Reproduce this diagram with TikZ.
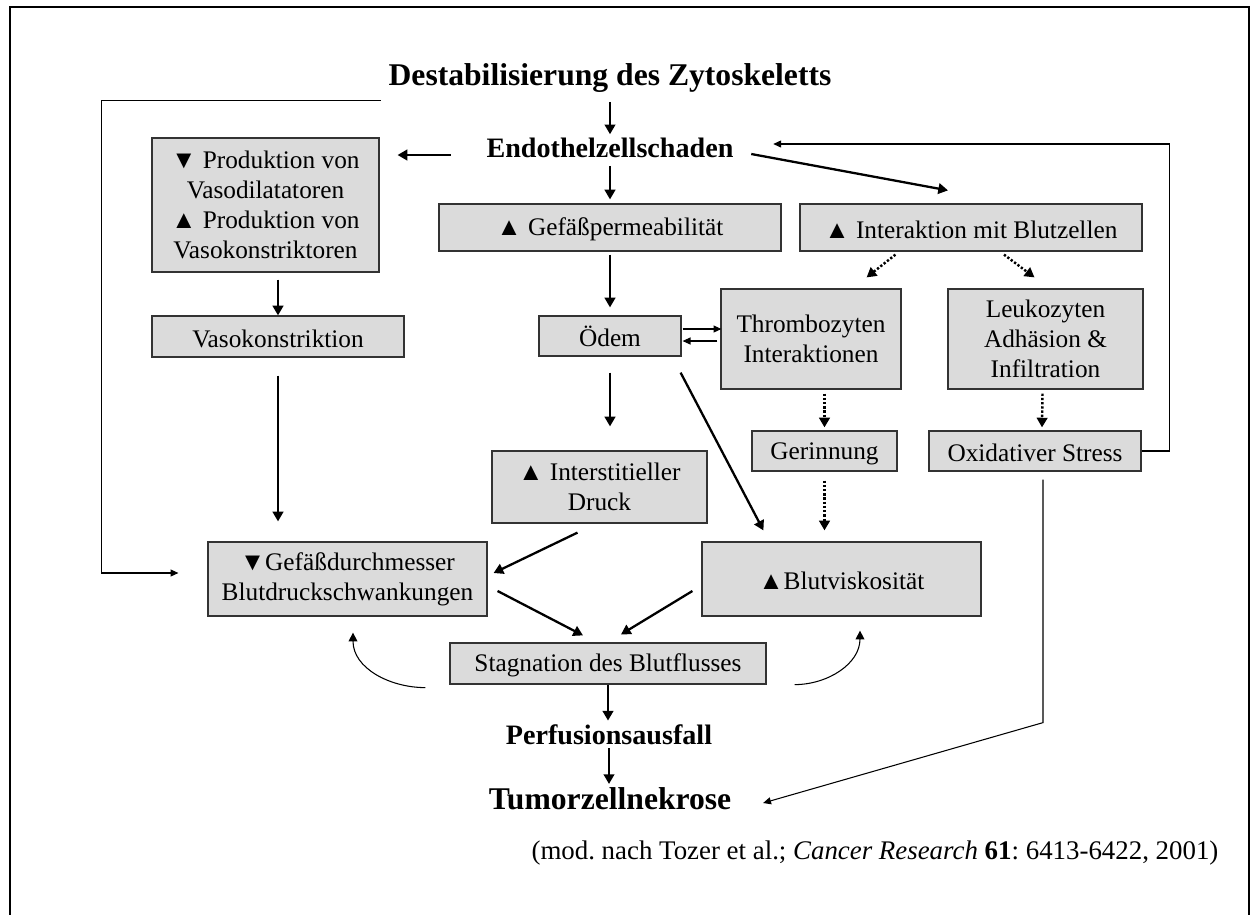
\documentclass[tikz,border=0pt]{standalone}
\usepackage{fontspec}
\setmainfont{Liberation Serif}
\usetikzlibrary{arrows.meta}

\tikzset{
  kasten/.style={draw=black!80, fill=black!14, line width=0.7pt, inner sep=0pt,
    align=center, font=\fontsize{14.4}{17.2}\selectfont,
    execute at begin node={\rule{0pt}{12.3pt}}},
  titel/.style={inner sep=2pt, font=\fontsize{18}{21}\selectfont\bfseries},
  zwischen/.style={inner sep=2pt, font=\fontsize{16}{19}\selectfont\bfseries},
  pfeil/.style={line width=1.3pt, -{Triangle[width=6pt,length=5.5pt]}},
  punkt/.style={pfeil, line width=1.4pt, dash pattern=on 1.3pt off 1.1pt},
  duenn/.style={line width=0.6pt, -{Triangle[width=4pt,length=4.5pt]}},
}

\begin{document}
\frenchspacing
\begin{tikzpicture}[x=0.02cm, y=-0.02cm]
            \useasboundingbox (0,0) rectangle (1255,914);
            % Rahmen
            \draw[line width=1.2pt] (10,930) -- (10,7) -- (1249,7) -- (1249,930);

            \node[titel] (destab) at (610,77.6) {Destabilisierung des Zytoskeletts};
            \node[zwischen] (endo) at (610,148) {Endothelzellschaden};
            \node[kasten, minimum width=4.54cm, minimum height=2.68cm] (prod) at (265.5,205)
                {▼ Produktion von\\Vasodilatatoren\\▲ Produktion von\\Vasokonstriktoren};
            \node[kasten, minimum width=5.04cm, minimum height=0.82cm] (vaso) at (278,336.5) {Vasokonstriktion};
            \node[kasten, minimum width=6.84cm, minimum height=0.94cm] (perm) at (610,227.5) {▲ Gefäßpermeabilität};
            \node[kasten, minimum width=6.84cm, minimum height=0.94cm] (blutz) at (971,227.5) {▲ Interaktion mit Blutzellen};
            \node[kasten, minimum width=2.84cm, minimum height=0.80cm] (oedem) at (610,336) {Ödem};
            \node[kasten, minimum width=3.60cm, minimum height=2.00cm] (thromb) at (811,339) {Thrombozyten\\Interaktionen};
            \node[kasten, minimum width=3.90cm, minimum height=2.00cm] (leuko) at (1045.5,339) {Leukozyten\\Adhäsion \&\\Infiltration};
            \node[kasten, minimum width=2.90cm, minimum height=0.80cm] (gerinn) at (824.5,451) {Gerinnung};
            \node[kasten, minimum width=4.24cm, minimum height=0.80cm] (oxid) at (1035,451) {Oxidativer Stress};
            \node[kasten, minimum width=4.30cm, minimum height=1.44cm] (interst) at (599.5,487) {▲ Interstitieller\\Druck};
            \node[kasten, minimum width=5.58cm, minimum height=1.48cm] (gefaess) at (347.5,579) {▼Gefäßdurchmesser\\Blutdruckschwankungen};
            \node[kasten, minimum width=5.58cm, minimum height=1.48cm] (viskos) at (841.5,579) {▲Blutviskosität};
            \node[kasten, minimum width=6.32cm, minimum height=0.82cm] (stagn) at (608,663.5) {Stagnation des Blutflusses};
            \node[zwischen] (perf) at (609,734.5) {Perfusionsausfall};
            \node[titel] (tumor) at (610,799) {Tumorzellnekrose};
            \node[inner sep=0pt, font=\fontsize{15.3}{18}\selectfont] (quelle) at (875,853)
                {(mod. nach Tozer et al.; \textit{Cancer Research} \textbf{61}: 6413-6422, 2001)};

            % Hauptpfeile
            \draw[pfeil] ([yshift=-0.12cm]destab.south) -- (endo.north);
            \draw[pfeil] ([shift={(-32,7)}]endo.west) -- ([shift={(18,-50)}]prod.east);
            \draw[pfeil] ([yshift=-0.08cm]endo.south) -- ([yshift=0.08cm]perm.north);
            \draw[pfeil] ([shift={(14,6)}]endo.east) -- ([shift={(-23,-13)}]blutz.north);
            \draw[pfeil] ([yshift=-0.14cm]prod.south -| vaso.north) -- (vaso.north);
            \draw[pfeil, shorten >=0.4cm] ([yshift=-0.36cm]vaso.south) -- (vaso.south |- gefaess.north);
            \draw[pfeil] ([yshift=-0.06cm]perm.south) -- ([yshift=0.16cm]oedem.north);
            \draw[pfeil] ([yshift=-0.32cm]oedem.south) -- ([yshift=0.48cm]oedem.south |- interst.north);
            \draw[pfeil] ([shift={(-1,16)}]oedem.south east) -- ([shift={(62,-11)}]viskos.north west);
            \draw[duenn] ([shift={(1,-7)}]oedem.east) -- ([shift={(1,-10)}]thromb.west);
            \draw[duenn] ([shift={(-3,2)}]thromb.west) -- ([shift={(1,5)}]oedem.east);

            % Blutzellen (gepunktet)
            \draw[punkt] ([shift={(96,3)}]blutz.south west) -- ([shift={(-35,-11)}]thromb.north east);
            \draw[punkt] ([shift={(33,3)}]blutz.south) -- ([shift={(-11,-11)}]leuko.north);
            \draw[punkt] ([yshift=-0.08cm]thromb.south -| gerinn.north) -- ([yshift=0.06cm]gerinn.north);
            \draw[punkt] ([shift={(-3,4)}]leuko.south) -- ([shift={(7,-3)}]oxid.north);
            \draw[punkt] ([yshift=-0.18cm]gerinn.south) -- ([yshift=0.22cm]gerinn.south |- viskos.north);

            % Rueckkopplungen
            \draw[duenn] (oxid.east) -- ++(28,0) |- ([shift={(36,-4)}]endo.east);
            \draw[duenn] ([shift={(8,8)}]oxid.south) -- ++(0,243) -- ([shift={(28,4)}]tumor.east);
            \draw[duenn] ([shift={(-4,5)}]destab.south west) -- ++(-279,0) |- ([shift={(-29,-6)}]gefaess.west);

            % untere Ebene
            \draw[pfeil] ([shift={(-22,9)}]interst.south) -- ([shift={(6,-6)}]gefaess.east);
            \draw[pfeil] ([shift={(10,12)}]gefaess.east) -- ([shift={(-25,-7)}]stagn.north);
            \draw[pfeil] ([shift={(-9,12)}]viskos.west) -- ([shift={(13,-8)}]stagn.north);
            \draw[duenn, -{Triangle[width=5pt,length=5pt]}] ([shift={(-24,3)}]stagn.south west) to[out=180,in=-90] ([shift={(5.5,16)}]gefaess.south);
            \draw[duenn, -{Triangle[width=5pt,length=5pt]}] ([shift={(28,0)}]stagn.south east) to[out=0,in=-90] ([shift={(18.5,14)}]viskos.south);
            \draw[pfeil] (stagn.south) -- (stagn.south |- perf.north);
            \draw[pfeil] (perf.south) -- (perf.south |- tumor.north);
        \end{tikzpicture}
\end{document}
